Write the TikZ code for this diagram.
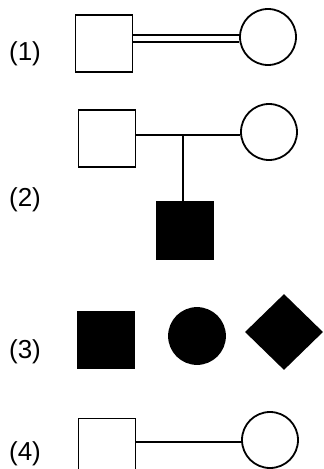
\documentclass[tikz,border=0pt]{standalone}
\usepackage{fontspec}
\setmainfont{Liberation Sans}
\usetikzlibrary{shapes.geometric}

\tikzset{
  male/.style={draw, line width=1.8pt, rectangle, minimum size=57pt, inner sep=0pt},
  female/.style={draw, line width=1.8pt, circle, minimum size=56pt, inner sep=0pt},
  unknown/.style={draw, line width=1.8pt, diamond, minimum width=76pt, minimum height=74pt, inner sep=0pt},
  affected/.style={fill=black},
  rowlabel/.style={font=\fontsize{26}{30}\selectfont, inner sep=0pt},
  tie/.style={line width=1.8pt}
}

\begin{document}
\begin{tikzpicture}[x=1pt, y=-1pt]
        % Page frame
        \useasboundingbox (0,0) rectangle (324,469);

        % Row labels
        \foreach \n/\y in {1/54, 2/200, 3/352, 4/454}{
            \node[rowlabel] (lab\n) at (25,\y) {(\n)};
          }

        % (1) consanguineous couple
        \node[male] (m1) at (104,43.5) {};
        \node[female] (f1) at (268,37) {};
        \coordinate (bar1) at (183,38.5);
        \draw[tie, double=white, double distance=4.5pt] (m1.east |- bar1) -- (f1.west |- bar1);

        % (2) couple with an affected son
        \node[male] (m2) at (107,138.5) {};
        \node[female] (f2) at (269,132) {};
        \node[male, affected] (c2) at (185,230.5) {};
        \coordinate (bar2) at (183,135);
        \draw[tie] (m2.east |- bar2) -- (f2.west |- bar2);
        \draw[tie] (bar2) -- (bar2 |- c2.north);

        % (3) affected individuals
        \node[male, affected] (m3) at (106,340) {};
        \node[female, affected] (f3) at (197,336) {};
        \node[unknown, affected] (u3) at (284,332) {};

        % (4) couple
        \node[male] (m4) at (107,447) {};
        \node[female] (f4) at (270,440) {};
        \coordinate (bar4) at (183,442);
        \draw[tie] (m4.east |- bar4) -- (f4.west |- bar4);
      \end{tikzpicture}
\end{document}
